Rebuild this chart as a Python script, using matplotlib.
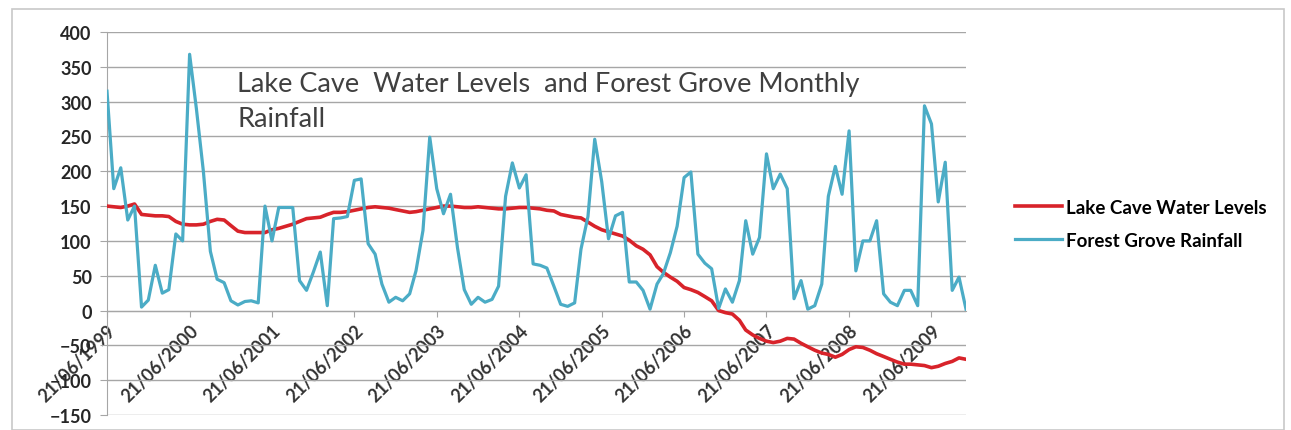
import matplotlib
matplotlib.use("Agg")
import matplotlib.pyplot as plt
import pandas as pd
from matplotlib.patches import Rectangle
from matplotlib.transforms import ScaledTranslation

# Monthly readings from 21/06/1999
water_levels = [
    150, 149, 148, 150, 153, 138, 137, 136, 136, 135, 128, 124,
    123, 123, 124, 128, 131, 130, 122, 114, 112, 112, 112, 112,
    116, 118, 121, 124, 128, 132, 133, 134, 138, 141, 141, 142,
    144, 146, 148, 149, 148, 147, 145, 143, 141, 142, 144, 146,
    148, 150, 150, 149, 148, 148, 149, 148, 147, 146, 146, 147,
    148, 148, 147, 146, 144, 143, 138, 136, 134, 133, 127, 121,
    116, 113, 110, 107, 101, 93, 88, 80, 63, 55, 48, 42,
    33, 30, 26, 20, 14, 0, -3, -5, -14, -28, -35, -40,
    -44, -46, -44, -40, -41, -47, -52, -57, -61, -63, -67, -63,
    -56, -52, -53, -57, -62, -66, -70, -74, -77, -77, -78, -79,
    -82, -80, -76, -73, -68, -70,
]

rainfall = [
    315, 175, 205, 130, 150, 5, 15, 65, 25, 30, 110, 100,
    368, 290, 200, 85, 45, 40, 14, 8, 13, 14, 11, 150,
    100, 148, 148, 148, 43, 29, 55, 84, 7, 132, 133, 135,
    187, 189, 96, 81, 38, 12, 19, 14, 24, 57, 115, 249,
    175, 139, 167, 90, 30, 9, 19, 12, 16, 35, 164, 212,
    176, 195, 67, 65, 61, 35, 9, 6, 11, 88, 135, 246,
    185, 103, 136, 141, 41, 41, 29, 2, 38, 53, 83, 121,
    191, 199, 81, 68, 60, 3, 31, 12, 43, 129, 81, 105,
    225, 175, 196, 175, 17, 43, 2, 7, 38, 164, 207, 167,
    258, 57, 100, 100, 129, 24, 12, 7, 29, 29, 7, 294,
    268, 156, 213, 29, 48, 2,
]

dates = pd.date_range("1999-06-21", periods=len(rainfall), freq=pd.DateOffset(months=1))
tick_dates = pd.date_range("1999-06-21", "2009-06-21", freq=pd.DateOffset(years=1))
tick_labels = [d.strftime("%d/%m/%Y") for d in tick_dates]
y_ticks = list(range(-150, 401, 50))

title_text = "Lake Cave  Water Levels  and Forest Grove Monthly\nRainfall"

W, H = 1291, 431
fig = plt.figure(figsize=(W / 100, H / 100), dpi=100)
ax = fig.add_axes([107 / W, 1 - 416 / H, 859 / W, 383 / H])

# light chart border
fig.patches.append(Rectangle((12 / W, 0), (1284 - 12) / W, (H - 10) / H,
                             transform=fig.transFigure, fill=False,
                             edgecolor="#c8c8c8", linewidth=1.2))

red = "#d8232a"
blue = "#4bacc6"
ax.plot(dates, water_levels, color=red, linewidth=2.6, label="Lake Cave Water Levels", zorder=3)
ax.plot(dates, rainfall, color=blue, linewidth=2.3, label="Forest Grove Rainfall", zorder=4)

ax.set_ylim(-150, 400)
ax.set_xlim(dates[0], dates[-1])
ax.set_yticks(y_ticks)
ax.grid(axis="y", color="#a6a6a6", linewidth=1.0)
ax.set_axisbelow(True)

for side in ("top", "right"):
    ax.spines[side].set_visible(False)
ax.spines["left"].set_color("#a6a6a6")
ax.spines["bottom"].set_color("#a6a6a6")
ax.spines["bottom"].set_position(("data", 0))

ax.set_xticks(tick_dates)
ax.set_xticklabels(tick_labels, rotation=45, ha="right", va="top",
                   rotation_mode="anchor", fontsize=13, fontweight="bold",
                   color="#333333", family="Lato")
# nudge the rotated date labels a little to the right
shift = ScaledTranslation(5 / 72, 2 / 72, fig.dpi_scale_trans)
for lab in ax.get_xticklabels():
    lab.set_transform(lab.get_transform() + shift)
ax.tick_params(axis="x", direction="out", length=4, color="#a6a6a6", pad=4)
ax.tick_params(axis="y", direction="out", length=5, color="#a6a6a6", pad=6,
               labelsize=13, labelcolor="#262626")
for lab in ax.get_yticklabels():
    lab.set_fontweight("bold")
    lab.set_family("Lato")

fig.text(237 / W, 1 - 72 / H, title_text, ha="left", va="top", fontsize=19.5,
         color="#404040", family="Lato", linespacing=1.5)

fig.legend(loc="center left", bbox_to_anchor=(1015 / W, 1 - 225 / H),
           frameon=False, prop={"family": "Lato", "weight": "bold", "size": 13.5},
           handlelength=2.5, handletextpad=0.2, labelspacing=0.85,
           borderpad=0, borderaxespad=0)

fig.savefig("out.png", dpi=100)
